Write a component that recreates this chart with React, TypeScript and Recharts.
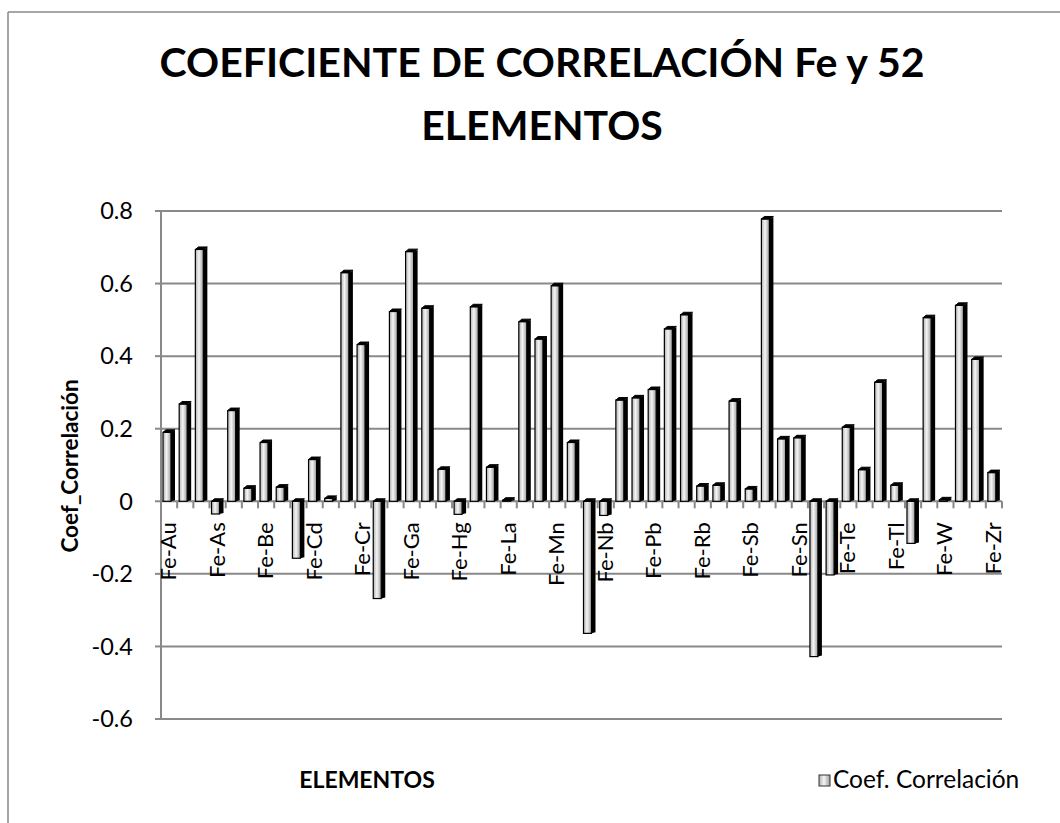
import React from 'react';
import { BarChart, Bar, XAxis, YAxis, CartesianGrid } from 'recharts';

// Elements paired with Fe, in the order of the source spreadsheet
const elements = [
  'Au', 'Ag', 'Al', 'As', 'B', 'Ba', 'Be', 'Bi', 'Ca', 'Cd', 'Ce', 'Co', 'Cr',
  'Cs', 'Cu', 'Ga', 'Ge', 'Hf', 'Hg', 'In', 'K', 'La', 'Li', 'Mg', 'Mn', 'Mo',
  'Na', 'Nb', 'Ni', 'P', 'Pb', 'Pd', 'Pt', 'Rb', 'Re', 'S', 'Sb', 'Sc', 'Se',
  'Sn', 'Sr', 'Ta', 'Te', 'Th', 'Ti', 'Tl', 'U', 'V', 'W', 'Y', 'Zn', 'Zr',
];

// Correlation coefficient of Fe against each element
const coefValues = [
  0.19, 0.268, 0.694, -0.035, 0.25, 0.036, 0.162, 0.039, -0.157, 0.115, 0.008, 0.63, 0.432,
  -0.268, 0.523, 0.688, 0.532, 0.088, -0.036, 0.536, 0.094, 0.003, 0.495, 0.447, 0.594, 0.162,
  -0.364, -0.039, 0.279, 0.285, 0.308, 0.475, 0.514, 0.042, 0.044, 0.276, 0.034, 0.778, 0.172,
  0.175, -0.428, -0.203, 0.204, 0.087, 0.328, 0.044, -0.116, 0.506, 0.004, 0.54, 0.391, 0.079,
];

const yTicks = [-0.6, -0.4, -0.2, 0, 0.2, 0.4, 0.6, 0.8];

const data = elements.map((el, i) => ({ name: `Fe-${el}`, coef: coefValues[i] }));

// layout
const W = 1060;
const H = 823;
const PLOT_TOP = 211;
const PLOT_BOTTOM = 719;
const PLOT_LEFT = 161;
const PLOT_RIGHT = 1002;
const Y_MIN = -0.6;
const Y_MAX = 0.8;
const ZERO_Y = PLOT_TOP + ((PLOT_BOTTOM - PLOT_TOP) * Y_MAX) / (Y_MAX - Y_MIN);
const BAND = (PLOT_RIGHT - PLOT_LEFT) / elements.length;
const GRID = '#898989';
const FONT = 'Lato, "Liberation Sans", sans-serif';

// 3D-ish column like the Excel original
const Column = (props: any) => {
  const { x, y, width, height } = props;
  const top = Math.min(y, y + height);
  const h = Math.abs(height);
  const side = 4;
  const fw = width - side;
  return (
    <g>
      <rect x={x} y={top} width={fw} height={h} fill="url(#colGrad)" stroke="#000" strokeWidth={1.2} />
      <polygon
        points={`${x + fw},${top} ${x + width},${top - 2} ${x + width},${top + h - 1} ${x + fw},${top + h}`}
        fill="#000"
      />
      <polygon
        points={`${x},${top} ${x + side - 1},${top - 2.5} ${x + width},${top - 2.5} ${x + fw},${top}`}
        fill="#000"
        stroke="#000"
        strokeWidth={1}
      />
    </g>
  );
};

const CategoryTick = (props: any) => {
  const { x, payload } = props;
  const index = props.index ?? payload.index;
  const left = x - BAND / 2;
  return (
    <g>
      <line x1={left} y1={ZERO_Y} x2={left} y2={ZERO_Y + 7} stroke={GRID} strokeWidth={2} />
      {index === elements.length - 1 && (
        <line x1={x + BAND / 2} y1={ZERO_Y} x2={x + BAND / 2} y2={ZERO_Y + 7} stroke={GRID} strokeWidth={2} />
      )}
      {index % 3 === 0 && (
        <text
          x={x + 7}
          y={ZERO_Y + 21}
          transform={`rotate(-90, ${x + 7}, ${ZERO_Y + 21})`}
          textAnchor="end"
          fontSize={22}
          fontFamily={FONT}
          fill="#000"
        >
          {payload.value}
        </text>
      )}
    </g>
  );
};

const App = () => {
  return (
    <div style={{ position: 'absolute', left: 0, top: 0, width: W, height: H, background: '#fff' }}>
      <BarChart
        width={W}
        height={H}
        data={data}
        barCategoryGap={0}
        margin={{ top: PLOT_TOP, right: W - PLOT_RIGHT, bottom: H - PLOT_BOTTOM - 1, left: PLOT_LEFT - 60 }}
      >
        <CartesianGrid horizontal vertical={false} stroke={GRID} strokeWidth={2} />
        <XAxis
          dataKey="name"
          height={1}
          interval={0}
          axisLine={false}
          tickLine={false}
          tick={<CategoryTick />}
        />
        <YAxis
          type="number"
          width={60}
          domain={[Y_MIN, Y_MAX]}
          ticks={yTicks}
          tickFormatter={(v: number) => (v === 0 ? '0' : v.toFixed(1))}
          axisLine={{ stroke: GRID, strokeWidth: 2 }}
          tickLine={{ stroke: GRID, strokeWidth: 2 }}
          tickSize={6}
          tickMargin={22}
          tick={{ fill: '#000', fontSize: 23.5, fontFamily: FONT }}
        />
        <Bar dataKey="coef" name="Coef. Correlación" barSize={12} shape={<Column />} isAnimationActive={false} />
      </BarChart>

      <svg
        width={W}
        height={H}
        style={{ position: 'absolute', left: 0, top: 0, pointerEvents: 'none' }}
      >
        <defs>
          <linearGradient id="colGrad" x1="0" y1="0" x2="1" y2="0">
            <stop offset="0%" stopColor="#b0b0b0" />
            <stop offset="45%" stopColor="#f5f5f5" />
            <stop offset="100%" stopColor="#9c9c9c" />
          </linearGradient>
        </defs>
        <line x1={8} y1={12} x2={8} y2={H} stroke={GRID} strokeWidth={1.5} />
        <line x1={8} y1={12} x2={W} y2={12} stroke={GRID} strokeWidth={1.5} />
        <text x={542} y={77} textAnchor="middle" fontSize={41} fontWeight="bold" fontFamily={FONT}>
          COEFICIENTE DE CORRELACIÓN Fe y 52
        </text>
        <text x={542} y={140} textAnchor="middle" fontSize={41} fontWeight="bold" fontFamily={FONT}>
          ELEMENTOS
        </text>
        <text
          x={78}
          y={466}
          transform="rotate(-90, 78, 466)"
          textAnchor="middle"
          fontSize={22.5}
          fontWeight="bold"
          fontFamily={FONT}
        >
          Coef_Correlación
        </text>
        <text x={367} y={788} textAnchor="middle" fontSize={23} fontWeight="bold" fontFamily={FONT}>
          ELEMENTOS
        </text>
        <rect x={819} y={775} width={11} height={11} fill="url(#colGrad)" stroke="#333" strokeWidth={1} />
        <text x={833} y={788} fontSize={24.5} fontFamily={FONT}>
          Coef. Correlación
        </text>
      </svg>
    </div>
  );
};

export default App;
